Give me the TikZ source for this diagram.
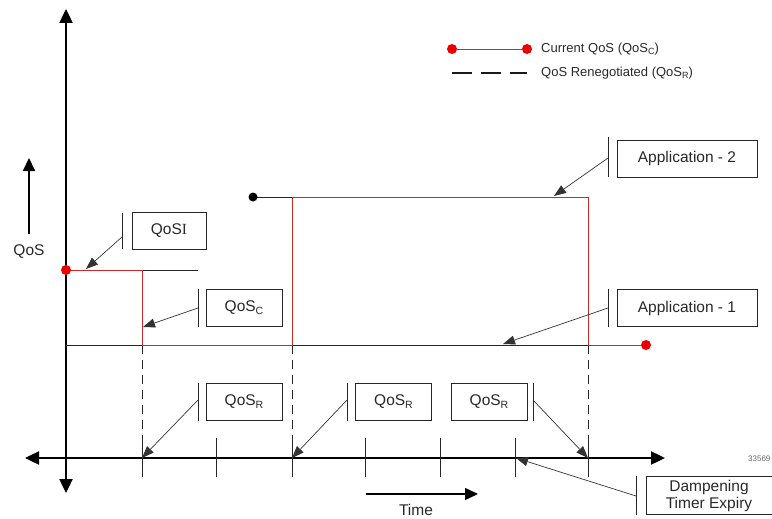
\documentclass[tikz,border=0pt]{standalone}
\usepackage{fontspec}
\setmainfont{Liberation Sans}
\newfontfamily\serifI{Liberation Serif}
\usetikzlibrary{arrows.meta}
\newcommand\lowsub[1]{\raisebox{-0.35ex}{\fontsize{10.5}{12}\selectfont #1}}
\definecolor{qred}{RGB}{205,40,40}
\definecolor{dotred}{RGB}{235,0,0}
\definecolor{txt}{RGB}{40,40,40}
\begin{document}
\begin{tikzpicture}[x=1pt,y=-1pt,
  lbl/.style={font=\fontsize{15.5}{18}\selectfont, text=txt},
  cbox/.style={draw=black!85, line width=0.9pt, minimum width=76pt, minimum height=37pt, inner sep=0pt, lbl},
  wbox/.style={cbox, minimum width=140pt},
  axisline/.style={line width=2.4pt, {Triangle[length=14pt,width=13pt]}-{Triangle[length=14pt,width=13pt]}},
  bar/.style={line width=0.9pt, black!85},
  callout/.style={line width=0.7pt, black!80, -{Triangle[length=12pt,width=9pt]}},
  redline/.style={qred, line width=0.9pt},
  blackline/.style={black!85, line width=0.9pt},
  tick/.style={black!85, line width=0.9pt},
  dashline/.style={black!85, line width=0.9pt, dash pattern=on 9pt off 6pt},
  rdot/.style={circle, fill=dotred, minimum size=10pt, inner sep=0pt},
  bdot/.style={circle, fill=black, minimum size=9pt, inner sep=0pt},
  legtext/.style={font=\fontsize{13}{15}\selectfont, text=txt, anchor=west, inner sep=0pt}
]
\useasboundingbox (0,0) rectangle (772,519);

% ---------- axes ----------
\coordinate (ytop) at (66,9);
\coordinate (ybot) at (66,493);
\coordinate (xl) at (25,458);
\coordinate (xr) at (665,458);
\draw[axisline] (ybot) -- (ytop);
\draw[axisline] (xl) -- (xr);

% QoS axis label arrow
\coordinate (qa0) at (29,234);
\coordinate (qa1) at (29,158);
\draw[line width=2pt, -{Triangle[length=13pt,width=12pt]}] (qa0) -- (qa1);
\node[lbl] (qoslbl) at (29,252) {QoS};

% Time arrow
\coordinate (ta0) at (366,494);
\coordinate (ta1) at (478,494);
\draw[line width=1.4pt, -{Triangle[length=13pt,width=12pt]}] (ta0) -- (ta1);
\node[lbl] (timelbl) at (416,510) {Time};

% ticks
\foreach \x [count=\i] in {142,216,292,365,440,515,588}{
  \coordinate (tt\i) at (\x,438);
  \coordinate (tb\i) at (\x,477);
  \draw[tick] (tt\i) -- (tb\i);
}

% ---------- key points ----------
\coordinate (p0) at (66,270);
\coordinate (p1) at (142,270);
\coordinate (p1e) at (198,270);
\coordinate (p2) at (142,345);
\coordinate (p3) at (292,345);
\coordinate (p4) at (292,197);
\coordinate (p5) at (588,197);
\coordinate (p6) at (588,345);
\coordinate (p7) at (646,345);
\coordinate (a1s) at (66,345);
\coordinate (a2s) at (253,197);
\coordinate (ax1) at (142,458);
\coordinate (ax2) at (292,458);
\coordinate (ax3) at (588,458);
\coordinate (ax4) at (516,458);

% black (application) lines
\draw[blackline] (a1s) -- (p2);
\draw[blackline] (p3) -- (p6);
\draw[blackline] (p1) -- (p1e);
\draw[blackline] (a2s) -- (p4);

% dashed renegotiation lines
\draw[dashline] (p2) -- (ax1);
\draw[dashline] (p3) -- (ax2);
\draw[dashline] (p6) -- (ax3);

% current QoS (red)
\draw[redline] (p0) -- (p1) -- (p2) -- (p3) -- (p4) -- (p5) -- (p6) -- (p7);
\node[rdot] (d0) at (p0) {};
\node[rdot] (d7) at (p7) {};
\node[bdot] (d2) at (a2s) {};

% ---------- callout boxes ----------
\node[cbox, minimum width=74pt] (bqi) at (169,230.5) {QoS{\serifI I}};
\node[cbox] (bqc) at (244,308) {QoS\lowsub{C}};
\node[cbox] (br1) at (244,402) {QoS\lowsub{R}};
\node[cbox] (br2) at (393.5,402) {QoS\lowsub{R}};
\node[cbox] (br3) at (489,402) {QoS\lowsub{R}};
\node[wbox] (bap2) at (687,158.5) {Application - 2};
\node[wbox] (bap1) at (687,308) {Application - 1};
\node[cbox, minimum width=126pt, minimum height=38pt, align=center, font=\fontsize{15.5}{17}\selectfont] (bdp) at (709,495.5) {Dampening\\Timer Expiry};

% bars
\draw[bar] (122,213) -- (122,249);
\draw[bar] (198,289) -- (198,327);
\draw[bar] (198,383) -- (198,421);
\draw[bar] (347,383) -- (347,421);
\draw[bar] (533,383) -- (533,421);
\draw[bar] (608,137) -- (608,177);
\draw[bar] (608,289) -- (608,327);
\draw[bar] (636,476) -- (636,515);

% callout start points (on the bars)
\coordinate (cqi) at (122,237);
\coordinate (cqc) at (198,308);
\coordinate (cr1) at (198,400);
\coordinate (cr2) at (347,400);
\coordinate (cr3) at (533,400);
\coordinate (cap2) at (608,158);
\coordinate (cap1) at (608,308);
\coordinate (cdp) at (636,496);
\coordinate (tqi) at (86,269);
\coordinate (tqc) at (143,327);
\coordinate (tap2) at (554,196);
\coordinate (tap1) at (503,344);

\draw[callout] (cqi) -- (tqi);
\draw[callout] (cqc) -- (tqc);
\draw[callout] (cr1) -- (ax1);
\draw[callout] (cr2) -- (ax2);
\draw[callout] (cr3) -- (ax3);
\draw[callout] (cap2) -- (tap2);
\draw[callout] (cap1) -- (tap1);
\draw[callout] (cdp) -- (ax4);

% ---------- legend ----------
\node[rdot] (l1a) at (452,49) {};
\node[rdot] (l1b) at (527,49) {};
\draw[redline] (l1a) -- (l1b);
\node[legtext] (l1t) at (541,49) {Current QoS (QoS\lowsub{\fontsize{9}{10}\selectfont C})};
\coordinate (l2a) at (452,73);
\coordinate (l2b) at (527,73);
\draw[black!90, line width=2pt, dash pattern=on 20pt off 9pt] (l2a) -- (l2b);
\node[legtext] (l2t) at (541,73) {QoS Renegotiated (QoS\lowsub{\fontsize{9}{10}\selectfont R})};

% figure number (clipped at the edge)
\node[anchor=west, inner sep=0pt, font=\fontsize{8}{9}\selectfont, text=black!60] (fig) at (748,459) {33569};
\end{tikzpicture}
\end{document}
